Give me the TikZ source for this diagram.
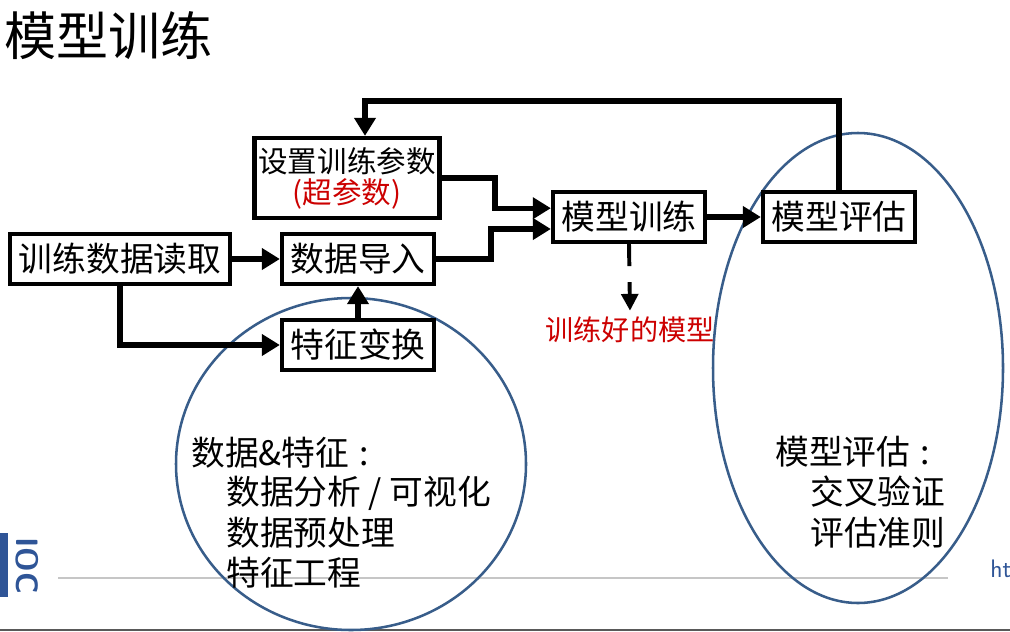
\documentclass[tikz,border=0pt]{standalone}
\usepackage{fontspec}
\setmainfont{Noto Sans CJK SC}
\usepackage{xcolor}
\usepackage{tikz}
\usetikzlibrary{arrows.meta,positioning}
\definecolor{ovalblue}{RGB}{56,93,138}
\definecolor{hparred}{RGB}{204,0,0}
\definecolor{logoblue}{RGB}{47,85,151}
\newcommand{\boxfont}{\fontsize{24}{24}\selectfont}
\newcommand{\cjkcolon}{\hspace{0.3em}:}

\begin{document}
\begin{tikzpicture}[x=0.025cm,y=-0.025cm,
    stage/.style={draw,fill=white,line width=3pt,inner sep=0pt,font=\boxfont,
                  minimum height=1.25cm,align=center},
    flow/.style={line width=3.8pt,-{Triangle[length=0.45cm,width=0.52cm]}},
    oval/.style={draw=ovalblue,line width=1.8pt},
    note/.style={anchor=west,inner sep=0pt,font=\boxfont}]
      \useasboundingbox (0,0) rectangle (1010,631);
      \clip (0,0) rectangle (1010,631);

      % title and slide decoration
      \node[anchor=west,inner sep=0pt,font=\fontsize{37}{37}\selectfont]
        (title) at (4,36) {模型训练};
      \draw[gray!45,line width=1.2pt] (58,578) -- (948,578);
      \fill[logoblue] (0,533) rectangle (8,597);
      \node[rotate=-90,inner sep=0pt,text=logoblue,font=\sffamily\bfseries\fontsize{22}{22}\selectfont]
        (logo) at (27,566) {IOC};
      \node[anchor=west,inner sep=0pt,text=logoblue,font=\sffamily\fontsize{18}{18}\selectfont]
        (url) at (990,569) {ht};
      \draw[gray!70!black,line width=2pt] (0,630) -- (1010,630);

      % the two ovals
      \draw[oval] (351,464) ellipse [x radius=175,y radius=166];
      \draw[oval] (858,368) ellipse [x radius=145,y radius=235];

      \node[stage,minimum width=4.625cm,minimum height=2cm,
            font=\fontsize{21}{22}\selectfont]
        (param) at (347,178)
        {设置训练参数\\\textcolor{hparred}{(超参数)}};
      \node[stage,minimum width=5.5cm] (read) at (120,259) {训练数据读取};
      \node[stage,minimum width=3.8cm] (import) at (358,259) {数据导入};
      \node[stage,minimum width=3.8cm] (feat) at (358,345) {特征变换};
      \node[stage,minimum width=3.8cm] (train) at (629,217) {模型训练};
      \node[stage,minimum width=3.8cm] (eval) at (839,217) {模型评估};

      \node[inner sep=0pt,text=hparred,font=\fontsize{20}{20}\selectfont]
        (trained) at (630,330) {训练好的模型};

      \draw[flow] (read) -- (import);
      \draw[flow] (read.south) |- (feat.west);
      \draw[flow] (feat) -- (import);
      \draw[flow] (param.east) -| ([xshift=-1.4cm,yshift=0.22cm]train.west)
        -- ([yshift=0.22cm]train.west);
      \draw[flow] (import.east) -| ([xshift=-1.5cm,yshift=-0.3cm]train.west)
        -- ([yshift=-0.3cm]train.west);
      \draw[flow] (train) -- (eval);
      \draw[flow] (eval.north) -- ++(0,-89) -| ([xshift=0.45cm]param.north);
      \draw[flow,line width=2.8pt,dash pattern=on 0.55cm off 0.4cm,
            -{Triangle[length=0.42cm,width=0.42cm]}]
        (train.south) -- ([yshift=0.15cm]trained.north);

      % notes inside the ovals
      \node[note] (dfhead) at (191,453) {数据\&特征\cjkcolon};
      \node[note] (dfa) at (226,493) {数据分析 / 可视化};
      \node[note] (dfb) at (226,533) {数据预处理};
      \node[note] (dfc) at (226,573) {特征工程};
      \node[note] (evhead) at (775,452) {模型评估\cjkcolon};
      \node[note] (eva) at (810,492) {交叉验证};
      \node[note] (evb) at (810,533) {评估准则};
    \end{tikzpicture}
\end{document}
